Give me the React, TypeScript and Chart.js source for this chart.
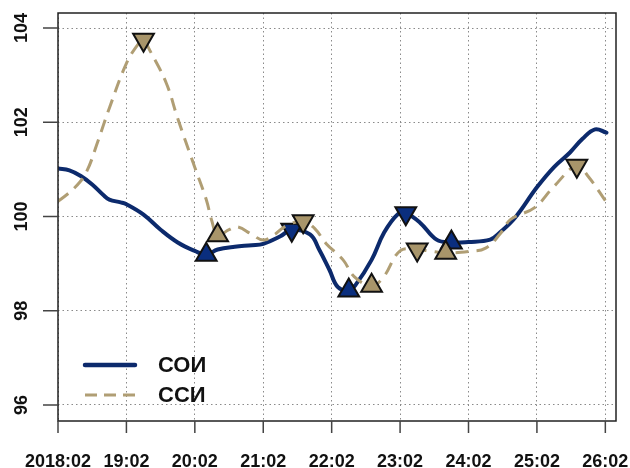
import { useEffect, useRef } from "react";
import { Chart, registerables } from "chart.js";

Chart.register(...registerables);

// x in months since 2018:02
const xTickMonths = [0, 12, 24, 36, 48, 60, 72, 84, 96];
const xTickLabels = ["2018:02", "19:02", "20:02", "21:02", "22:02", "23:02", "24:02", "25:02", "26:02"];
const yTickValues = [96, 98, 100, 102, 104];
const seriesNames = ["СОИ", "ССИ"];

const soiMonths = [0, 2, 4, 6, 8, 9, 11, 12, 15, 18, 21, 24, 26, 28, 31, 34, 36, 39, 41, 44.2, 45.8, 47.6, 49.1, 51, 52.2, 55, 57.2, 59.6, 61, 63.5, 66.4, 69, 72, 75.8, 77.5, 80.2, 84, 87, 89.8, 92, 94.2, 96.2];
const soiValues = [101.02, 100.98, 100.86, 100.68, 100.45, 100.36, 100.3, 100.26, 100.04, 99.72, 99.45, 99.27, 99.19, 99.3, 99.36, 99.39, 99.42, 99.58, 99.72, 99.62, 99.3, 98.87, 98.5, 98.43, 98.55, 99.08, 99.66, 100.05, 100.07, 99.87, 99.51, 99.45, 99.46, 99.51, 99.66, 99.98, 100.62, 101.05, 101.36, 101.65, 101.85, 101.78];
const soiMarkers = ["", "", "", "", "", "", "", "", "", "", "", "", "up", "", "", "", "", "", "down", "", "", "", "", "up", "", "", "", "", "down", "", "", "up", "", "", "", "", "", "", "", "", "", ""];

const ssiMonths = [0, 3, 5, 7, 9, 12, 14, 15, 16, 19, 21, 24, 26, 27, 28, 30, 31.5, 34, 36, 38, 40, 43, 45, 47, 50, 52, 55, 57, 60, 63, 65, 68, 72, 75, 77.6, 79.4, 83.6, 87, 91, 93, 96.1];
const ssiValues = [100.32, 100.62, 100.95, 101.6, 102.3, 103.25, 103.65, 103.75, 103.55, 102.83, 102.08, 101.04, 100.36, 99.9, 99.6, 99.72, 99.78, 99.62, 99.5, 99.62, 99.8, 99.9, 99.75, 99.43, 99.08, 98.72, 98.53, 98.7, 99.27, 99.3, 99.27, 99.23, 99.26, 99.33, 99.64, 99.94, 100.19, 100.64, 101.08, 100.85, 100.32];
const ssiMarkers = ["", "", "", "", "", "", "", "down", "", "", "", "", "", "", "up", "", "", "", "", "", "", "down", "", "", "", "", "up", "", "", "down", "", "up", "", "", "", "", "", "", "down", "", ""];

const SOI_LINE = "#0c2a6c";
const SOI_FILL = "#0a2e7e";
const SSI_LINE = "#b09e74";
const SSI_FILL = "#a8956a";
const FONT = "'Liberation Sans', Arial, sans-serif";

const rAxesPlugin = {
  id: "rAxes",
  afterDraw(chart: any) {
    const ctx = chart.ctx as CanvasRenderingContext2D;
    const { left, right, top, bottom } = chart.chartArea;
    const xs = chart.scales.x;
    const ys = chart.scales.y;
    ctx.save();
    ctx.lineCap = "butt";
    ctx.strokeStyle = "#222";
    ctx.lineWidth = 1.5;
    ctx.setLineDash([]);
    ctx.strokeRect(left, top, right - left, bottom - top);
    ctx.strokeStyle = "#444";
    ctx.lineWidth = 1.5;
    ctx.beginPath();
    xTickMonths.forEach((m) => {
      const px = xs.getPixelForValue(m);
      ctx.moveTo(px, bottom);
      ctx.lineTo(px, bottom + 12);
    });
    yTickValues.forEach((v) => {
      const py = ys.getPixelForValue(v);
      ctx.moveTo(left - 15, py);
      ctx.lineTo(left, py);
    });
    ctx.stroke();
    ctx.fillStyle = "#111";
    ctx.font = `bold 18px ${FONT}`;
    ctx.textAlign = "center";
    ctx.textBaseline = "alphabetic";
    xTickLabels.forEach((lab, i) => {
      ctx.fillText(lab, xs.getPixelForValue(xTickMonths[i]), bottom + 46);
    });
    yTickValues.forEach((v) => {
      ctx.save();
      ctx.translate(left - 31, ys.getPixelForValue(v));
      ctx.rotate(-Math.PI / 2);
      ctx.fillText(String(v), 0, 0);
      ctx.restore();
    });
    const lx0 = left + 27;
    const lx1 = left + 77;
    const ly0 = bottom - 56;
    const ly1 = bottom - 26;
    ctx.lineCap = "round";
    ctx.strokeStyle = SOI_LINE;
    ctx.lineWidth = 4.5;
    ctx.beginPath();
    ctx.moveTo(lx0, ly0);
    ctx.lineTo(lx1, ly0);
    ctx.stroke();
    ctx.lineCap = "butt";
    ctx.strokeStyle = SSI_LINE;
    ctx.lineWidth = 3;
    ctx.setLineDash([12, 7]);
    ctx.beginPath();
    ctx.moveTo(lx0, ly1);
    ctx.lineTo(lx1 + 2, ly1);
    ctx.stroke();
    ctx.setLineDash([]);
    ctx.fillStyle = "#111";
    ctx.font = `bold 22px ${FONT}`;
    ctx.textAlign = "left";
    ctx.textBaseline = "middle";
    ctx.fillText(seriesNames[0], left + 100, ly0 + 1);
    ctx.fillText(seriesNames[1], left + 100, ly1 + 1);
    ctx.restore();
  },
};

export default function App() {
  const ref = useRef<HTMLCanvasElement | null>(null);
  useEffect(() => {
    if (!ref.current) return;
    const mk = (markers: string[]) => ({
      pointRadius: markers.map((k) => (k ? 12 : 0)),
      pointHoverRadius: markers.map((k) => (k ? 12 : 0)),
      pointRotation: markers.map((k) => (k === "down" ? 180 : 0)),
    });
    const gridOpts = { color: "#8a8a8a", lineWidth: 1, drawTicks: false };
    const borderOpts = { display: false, dash: [1.5, 3] };
    const chart = new Chart(ref.current, {
      type: "line",
      data: {
        datasets: [
          {
            label: seriesNames[0],
            data: soiMonths.map((m, i) => ({ x: m, y: soiValues[i] })),
            borderColor: SOI_LINE,
            borderWidth: 4,
            borderCapStyle: "round",
            borderJoinStyle: "round",
            tension: 0.4,
            pointStyle: "triangle",
            ...mk(soiMarkers),
            pointBackgroundColor: SOI_FILL,
            pointBorderColor: "#111",
            pointBorderWidth: 2,
            order: 1,
          } as any,
          {
            label: seriesNames[1],
            data: ssiMonths.map((m, i) => ({ x: m, y: ssiValues[i] })),
            borderColor: SSI_LINE,
            borderWidth: 3,
            borderDash: [13, 8],
            tension: 0.4,
            pointStyle: "triangle",
            ...mk(ssiMarkers),
            pointBackgroundColor: SSI_FILL,
            pointBorderColor: "#111",
            pointBorderWidth: 2,
            order: 0,
          } as any,
        ],
      },
      options: {
        animation: false,
        responsive: true,
        maintainAspectRatio: false,
        events: [],
        layout: { padding: { left: 58, top: 13, right: 14, bottom: 47 } },
        plugins: { legend: { display: false }, tooltip: { enabled: false } },
        scales: {
          x: {
            type: "linear",
            min: 0,
            max: 97.87,
            afterBuildTicks: (s: any) => {
              s.ticks = xTickMonths.map((v) => ({ value: v }));
            },
            afterFit: (s: any) => {
              s.height = 0;
            },
            ticks: { display: false },
            border: borderOpts,
            grid: gridOpts,
          },
          y: {
            type: "linear",
            min: 95.66,
            max: 104.32,
            afterBuildTicks: (s: any) => {
              s.ticks = yTickValues.map((v) => ({ value: v }));
            },
            afterFit: (s: any) => {
              s.width = 0;
            },
            ticks: { display: false },
            border: borderOpts,
            grid: gridOpts,
          },
        },
      } as any,
      plugins: [rAxesPlugin],
    });
    return () => chart.destroy();
  }, []);
  return (
    <div style={{ position: "fixed", left: 0, top: 0, width: 630, height: 468, background: "#fff" }}>
      <canvas ref={ref} />
    </div>
  );
}
